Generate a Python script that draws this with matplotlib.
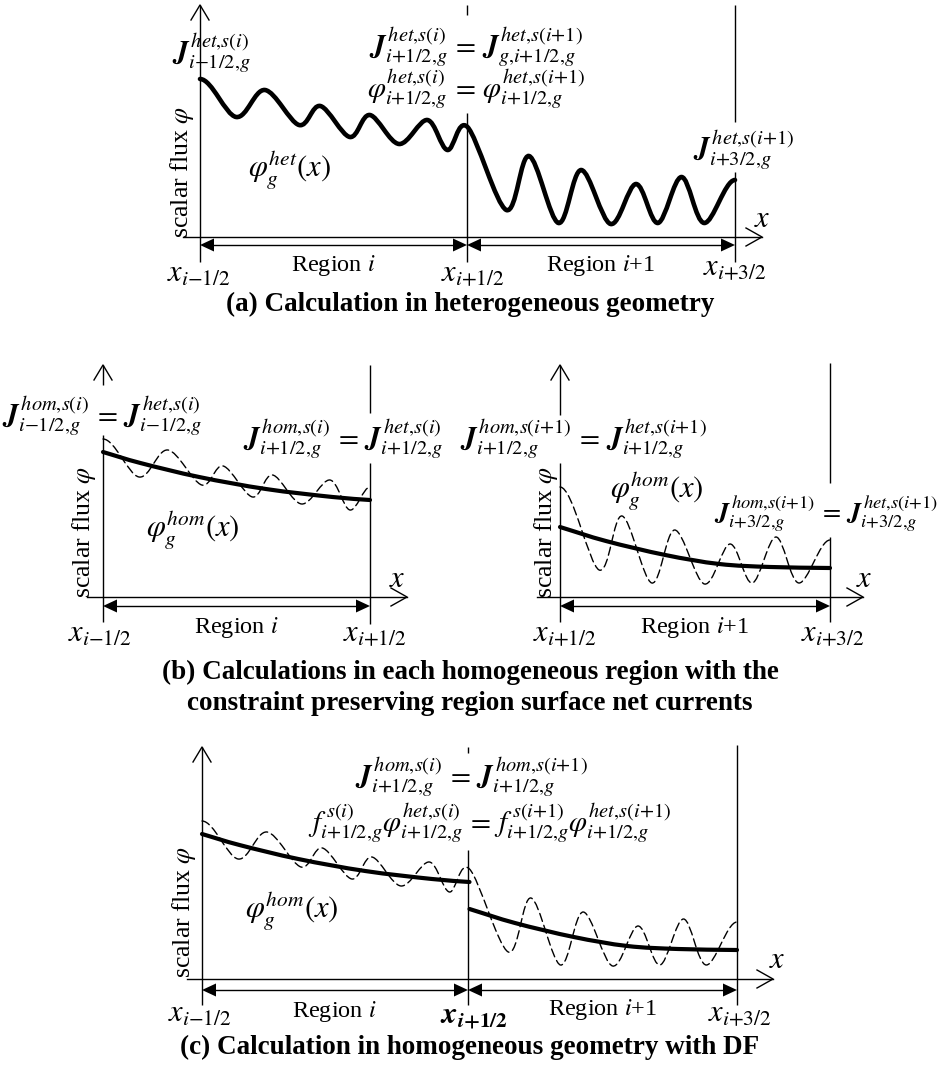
import numpy as np
import matplotlib
matplotlib.use("Agg")
import matplotlib.pyplot as plt
from matplotlib.path import Path
from matplotlib.patches import PathPatch, Polygon

plt.rcParams['mathtext.fontset'] = 'stix'
plt.rcParams['font.family'] = ['Liberation Serif', 'DejaVu Serif']

W, H = 941, 1073

# Heterogeneous scalar flux in region i (local coordinate 0..1, arbitrary flux units)
het_i_x = [0.0, 0.135, 0.243, 0.37, 0.45, 0.56, 0.635, 0.744, 0.85, 0.925, 1.0]
het_i_y = [1.58, 1.20, 1.47, 1.12, 1.31, 1.00, 1.22, 0.93, 1.17, 0.87, 1.10]
# Heterogeneous scalar flux in region i+1
het_i1_x = [0.0, 0.145, 0.23, 0.34, 0.425, 0.535, 0.63, 0.712, 0.80, 0.885, 1.0]
het_i1_y = [1.10, 0.27, 0.81, 0.14, 0.67, 0.13, 0.53, 0.14, 0.60, 0.14, 0.57]
# Homogenized scalar flux in each region
hom_i_x = [0.0, 0.14, 0.36, 0.61, 0.86, 1.0]
hom_i_y = [1.45, 1.34, 1.20, 1.08, 1.00, 0.97]
hom_i1_x = [0.0, 0.17, 0.39, 0.59, 0.78, 1.0]
hom_i1_y = [0.70, 0.56, 0.42, 0.33, 0.30, 0.29]

FLUX_PX = 100.0   # pixels per flux unit
FLUX_TOP = 1.8


def smooth_path(xs, ys, flat_ends):
    """Catmull-Rom spline through the given points, as cubic Bezier segments."""
    p = np.column_stack([xs, ys]).astype(float)
    n = len(p)
    verts = [p[0]]
    codes = [Path.MOVETO]
    for k in range(n - 1):
        p1, p2 = p[k], p[k + 1]
        if k == 0:
            t1 = np.array([(p2[0] - p1[0]), 0.0 if flat_ends else (p2[1] - p1[1])]) / 3
        else:
            t1 = (p2 - p[k - 1]) / 6
        if k + 2 >= n:
            t2 = np.array([(p2[0] - p1[0]), 0.0 if flat_ends else (p2[1] - p1[1])]) / 3
        else:
            t2 = (p[k + 2] - p1) / 6
        verts += [p1 + t1, p2 - t2, p2]
        codes += [Path.CURVE4] * 3
    return Path(verts, codes)


def draw_curve(ax, xs, ys, flat_ends, **kw):
    patch = PathPatch(smooth_path(xs, ys, flat_ends), facecolor='none',
                      edgecolor='black', clip_on=False, capstyle='round',
                      joinstyle='round', **kw)
    ax.add_patch(patch)


fig = plt.figure(figsize=(W / 100, H / 100), dpi=100)
cv = fig.add_axes([0, 0, 1, 1])
cv.set_xlim(0, W)
cv.set_ylim(H, 0)
cv.axis('off')


def panel(x0, x1, base, nreg):
    ax = fig.add_axes([x0 / W, (H - base) / H, (x1 - x0) / W, FLUX_TOP * FLUX_PX / H])
    ax.set_xlim(0, nreg)
    ax.set_ylim(0, FLUX_TOP)
    ax.axis('off')
    ax.patch.set_alpha(0)
    return ax


def vline(x, *spans):
    for y0, y1 in spans:
        cv.plot([x, x], [y0, y1], color='black', lw=1.0, solid_capstyle='butt')


def up_axis(x, tip, bottom, gap=None):
    if gap:
        vline(x, (tip, gap[0]), (gap[1], bottom))
    else:
        vline(x, (tip, bottom))
    cv.plot([x - 9, x, x + 9], [tip + 15, tip, tip + 15], color='black', lw=1.0)


def right_axis(y, x0, tip):
    cv.plot([x0, tip], [y, y], color='black', lw=1.0)
    cv.plot([tip - 16, tip, tip - 16], [y - 9, y, y + 9], color='black', lw=1.0)


def span_arrow(y, x0, x1):
    cv.plot([x0 + 6, x1 - 6], [y, y], color='black', lw=1.0)
    cv.add_patch(Polygon([(x0, y), (x0 + 14, y - 6.5), (x0 + 14, y + 6.5)],
                         closed=True, color='black', lw=0))
    cv.add_patch(Polygon([(x1, y), (x1 - 14, y - 6.5), (x1 - 14, y + 6.5)],
                         closed=True, color='black', lw=0))


def txt(x, y, s, size, **kw):
    cv.text(x, y, s, ha='center', va='center', fontsize=size, **kw)


def math(x, y, body, size=21, ha='center'):
    """Formula placed on its baseline."""
    cv.text(x, y, '$' + body + '$', ha=ha, va='baseline', fontsize=size)


def J(sup, sub):
    return r'\mathbfit{J}^{\,' + sup + '}_{' + sub + '}'


def PHI(sup, sub):
    return r'\varphi^{' + sup + '}_{' + sub + '}'


def F(sup, sub):
    return r'f^{\,' + sup + '}_{' + sub + '}'


EQ = r'\,=\,'
HI = r'i{-}1/2{,}g'
HIP = r'i{+}1/2{,}g'
H3 = r'i{+}3/2{,}g'
HET_I = r'het{,}s(i)'
HET_I1 = r'het{,}s(i{+}1)'
HOM_I = r'hom{,}s(i)'
HOM_I1 = r'hom{,}s(i{+}1)'

MS = 21      # formula size
XS = 22      # boundary coordinate label size
RS = 17.5    # region label size
CS = 19.5    # caption size
SS = 18.5    # axis title size

# ---------------- (a) heterogeneous geometry ----------------
up_axis(200, 5, 262)
right_axis(237, 183, 762)
vline(467, (5, 15), (113, 262))
vline(735, (5, 122), (172, 262))
span_arrow(245, 200, 467)
span_arrow(245, 467, 735)

ax_a = panel(200, 735, 237, 2)
het_x = list(het_i_x) + [1 + v for v in het_i1_x[1:]]
het_y = list(het_i_y) + list(het_i1_y[1:])
draw_curve(ax_a, het_x, het_y, True, lw=3.3)

math(211, 61, J(HET_I, HI))
math(476, 55, J(HET_I, HIP) + EQ + J(HET_I1, r'g{,}i{+}1/2{,}g'))
math(476, 97, PHI(HET_I, HIP) + EQ + PHI(HET_I1, HIP))
math(744, 157, J(HET_I1, H3))
math(289, 177, PHI('het', 'g') + r'(x)', 22)
txt(182, 172, r'scalar flux $\varphi$', SS, rotation=90)
math(762, 227, 'x', XS)
txt(333, 266, r'Region $i$', RS)
txt(601, 266, r'Region $i$+1', RS)
math(199, 282, r'x_{i{-}1/2}', XS)
math(473, 282, r'x_{i{+}1/2}', XS)
math(735, 276, r'x_{i{+}3/2}', XS)
txt(470, 304, '(a) Calculation in heterogeneous geometry', CS, fontweight='bold')

# ---------------- (b) homogeneous regions ----------------
up_axis(103, 365, 622, gap=(385, 435))
right_axis(597, 87, 407)
vline(370, (365, 413), (463, 624))
span_arrow(606, 103, 370)

up_axis(560, 365, 622, gap=(415, 463))
right_axis(597, 537, 863)
vline(830, (363, 483), (537, 622))
span_arrow(606, 560, 830)

ax_bl = panel(103, 370, 597, 1)
draw_curve(ax_bl, het_i_x, het_i_y, True, lw=1.0, linestyle=(0, (6, 3)))
draw_curve(ax_bl, hom_i_x, hom_i_y, False, lw=3.0)

ax_br = panel(560, 830, 597, 1)
draw_curve(ax_br, het_i1_x, het_i1_y, True, lw=1.0, linestyle=(0, (6, 3)))
draw_curve(ax_br, hom_i1_x, hom_i1_y, False, lw=3.0)

math(102, 424, J(HOM_I, HI) + EQ + J(HET_I, HI))
math(343, 447, J(HOM_I, HIP) + EQ + J(HET_I, HIP))
math(583, 447, J(HOM_I1, HIP) + EQ + J(HET_I1, HIP))
math(938, 521, J(HOM_I1, H3) + EQ + J(HET_I1, H3), size=19, ha='right')
math(193, 537, PHI('hom', 'g') + r'(x)', 22)
math(657, 498, PHI('hom', 'g') + r'(x)', 22)
txt(84, 532, r'scalar flux $\varphi$', SS, rotation=90)
txt(546, 532, r'scalar flux $\varphi$', SS, rotation=90)
math(397, 587, 'x', XS)
math(864, 587, 'x', XS)
txt(236, 627, r'Region $i$', RS)
txt(695, 627, r'Region $i$+1', RS)
math(100, 642, r'x_{i{-}1/2}', XS)
math(375, 642, r'x_{i{+}1/2}', XS)
math(565, 642, r'x_{i{+}1/2}', XS)
math(833, 642, r'x_{i{+}3/2}', XS)
txt(470, 672, '(b) Calculations in each homogeneous region with the', CS, fontweight='bold')
txt(470, 704, 'constraint preserving region surface net currents', CS, fontweight='bold')

# ---------------- (c) homogeneous geometry with DF ----------------
up_axis(202, 747, 1005)
right_axis(979, 187, 773)
vline(468, (747, 753), (850, 1005))
vline(737, (745, 1005))
span_arrow(990, 202, 468)
span_arrow(990, 468, 737)

ax_c = panel(202, 737, 979, 2)
draw_curve(ax_c, het_x, het_y, True, lw=1.0, linestyle=(0, (6, 3)))
draw_curve(ax_c, hom_i_x, hom_i_y, False, lw=3.0)
draw_curve(ax_c, [1 + v for v in hom_i1_x], hom_i1_y, False, lw=3.0)

math(471, 785, J(HOM_I, HIP) + EQ + J(HOM_I1, HIP))
math(490, 831, F(r's(i)', HIP) + PHI(HET_I, HIP) + EQ
     + F(r's(i{+}1)', HIP) + PHI(HET_I1, HIP))
math(292, 918, PHI('hom', 'g') + r'(x)', 22)
txt(184, 912, r'scalar flux $\varphi$', SS, rotation=90)
math(777, 968, 'x', XS)
txt(334, 1011, r'Region $i$', RS)
txt(603, 1010, r'Region $i$+1', RS)
math(200, 1022, r'x_{i{-}1/2}', XS)
math(474, 1023, r'\mathbfit{x}_{\mathbfit{i}\mathbf{{+}1/2}}', XS)
math(740, 1022, r'x_{i{+}3/2}', XS)
txt(470, 1047, '(c) Calculation in homogeneous geometry with DF', CS, fontweight='bold')

fig.savefig('out.png', dpi=100, facecolor='white')
